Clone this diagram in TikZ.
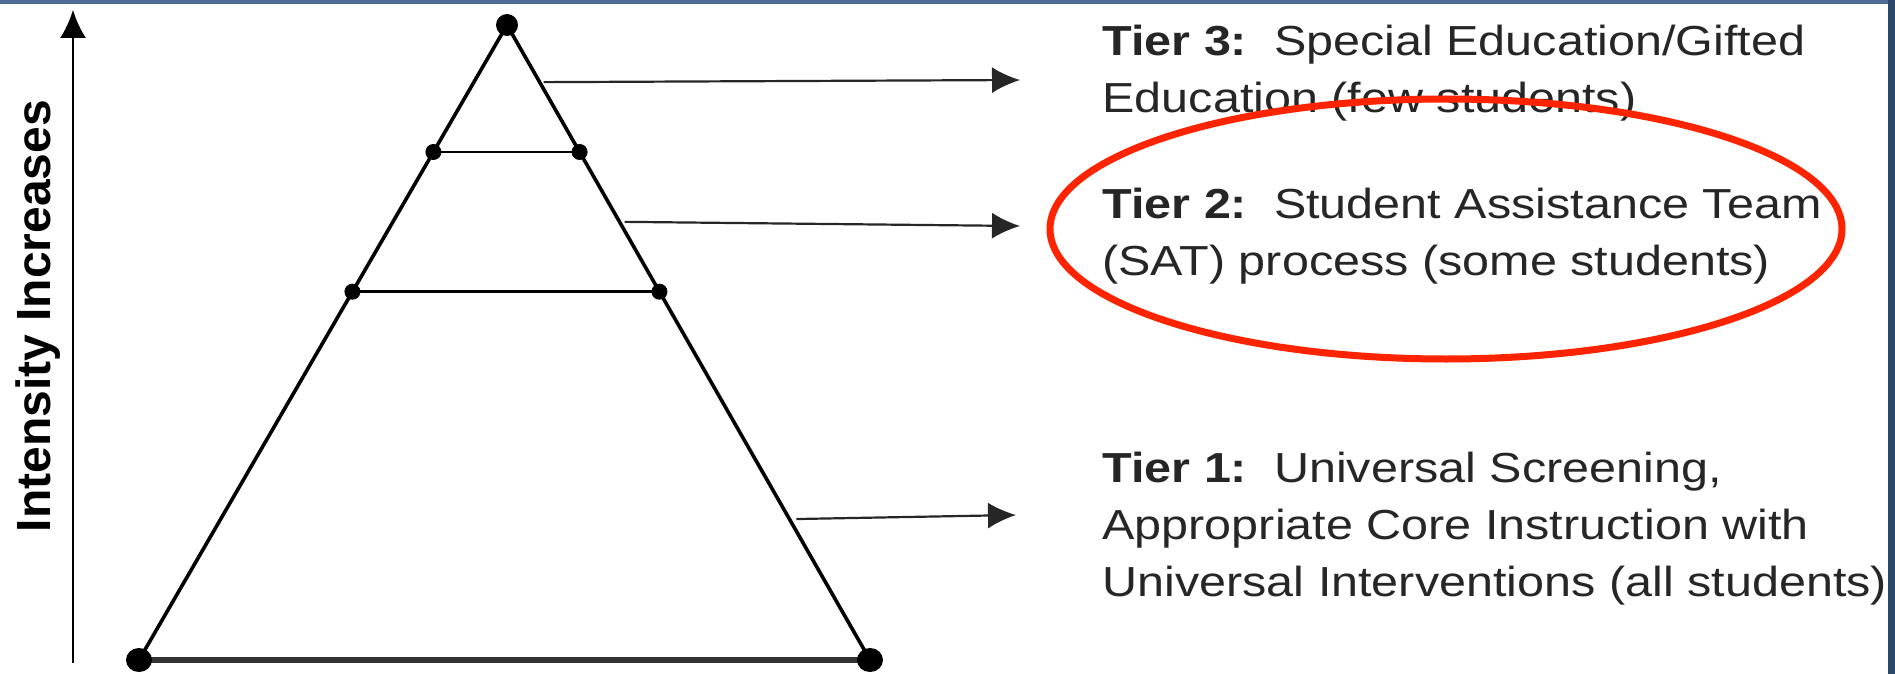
\documentclass[tikz,border=0pt]{standalone}
\usepackage{fontspec}
\setmainfont{Liberation Sans}
\usetikzlibrary{arrows.meta}
\usetikzlibrary{calc}
\definecolor{slideblue}{RGB}{74,108,148}
\definecolor{slidenavy}{RGB}{42,72,108}
\definecolor{ringred}{RGB}{255,36,0}
\tikzset{>={Latex[length=14pt,width=13pt]}}
\tikzset{
  tierline/.style={line width=1.4pt},
  tierarrow/.style={->, line width=1.1pt, black!85},
  tierdot/.style={radius=8},
  tiertext/.style={anchor=north west, align=left, inner sep=0pt, xscale=1.155,
    font=\fontsize{21}{28.5}\selectfont, text=black!85}
}

\begin{document}
\begin{tikzpicture}[x=0.5pt, y=-0.5pt]
                \useasboundingbox (0, 0) rectangle (1895, 674);
                % slide border
                \fill [slideblue] (0, 0) rectangle (1895, 4);
                \fill [slidenavy] (1888, 0) rectangle (1895, 674);
                % axis
                \coordinate (axisbot) at (73, 663);
                \coordinate (axistop) at (73, 10);
                \draw [->, line width=1.1pt] (axisbot) -- (axistop);
                \node [rotate=90, anchor=base, font=\bfseries\fontsize{24}{28}\selectfont] (intensity) at (50, 316) {Intensity Increases};
                % pyramid
                \coordinate (apex) at (507, 25);
                \coordinate (bl) at (139, 660);
                \coordinate (br) at (870, 660);
                \draw [line width=1.8pt] (bl) -- (apex) -- (br);
                \draw [line width=2.6pt, black!80] (bl) -- (br);
                \fill (apex) circle [radius=11];
                \fill (bl) circle [x radius=13, y radius=12];
                \fill (br) circle [x radius=13, y radius=12];
                % tier borders
                \coordinate (upl) at ($(apex)!0.2!(bl)$);
                \coordinate (upr) at ($(apex)!0.2!(br)$);
                \coordinate (lol) at ($(apex)!0.42!(bl)$);
                \coordinate (lor) at ($(apex)!0.42!(br)$);
                \draw [tierline] (upl) -- (upr);
                \draw [tierline] (lol) -- (lor);
                \fill (upl) circle [tierdot];
                \fill (upr) circle [tierdot];
                \fill (lol) circle [tierdot];
                \fill (lor) circle [tierdot];
                % Tier 3
                \node [tiertext] (tier3) at (1102, 25) {\textbf{Tier 3:}\ \ Special Education/Gifted\\Education (few students)};
                \coordinate (t3start) at ($(apex)!0.09!(br)+(4, 0)$);
                \coordinate (t3end) at (1020, 80);
                \draw [tierarrow] (t3start) -- (t3end);
                % Tier 2
                \node [tiertext] (tier2) at (1102, 188) {\textbf{Tier 2:}\ \ Student Assistance Team\\(SAT) process (some students)};
                \coordinate (t2start) at ($(apex)!0.31!(br)+(5, 0)$);
                \coordinate (t2end) at (1020, 226);
                \draw [tierarrow] (t2start) -- (t2end);
                % Tier 1
                \node [tiertext] (tier1) at (1102, 452) {\textbf{Tier 1:}\ \ Universal Screening,\\Appropriate Core Instruction with\\Universal Interventions (all students)};
                \coordinate (t1start) at ($(apex)!0.778!(br)+(7, 0)$);
                \coordinate (t1end) at (1016, 515);
                \draw [tierarrow] (t1start) -- (t1end);
                % highlight
                \draw [ringred, line width=3.5pt] (1446, 229) ellipse [x radius=396, y radius=130];
\end{tikzpicture}
\end{document}
